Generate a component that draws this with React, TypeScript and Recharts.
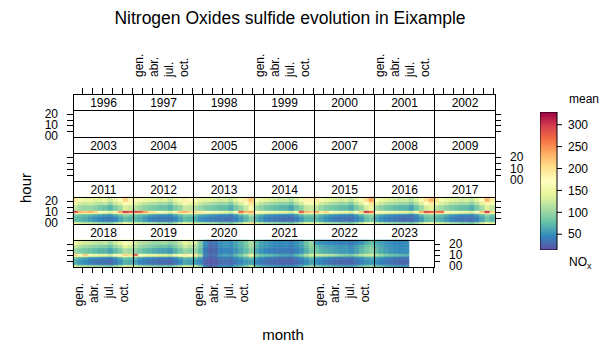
import React from 'react';
import { BarChart, Bar, Cell, XAxis, YAxis } from 'recharts';

// month / hour axes
const months = [1, 2, 3, 4, 5, 6, 7, 8, 9, 10, 11, 12];
const monthNames = ['gen.', 'febr.', 'març', 'abr.', 'maig', 'juny', 'jul.', 'ag.', 'set.', 'oct.', 'nov.', 'des.'];
const labelledMonths = [1, 4, 7, 10];
const tickMonths = [2, 4, 6, 8, 10, 12];
const hourTicks = [5, 10, 15, 20];
const hourLabels = [0, 10, 20];

// hour groups used for the cells (bottom to top)
const hourBands = [
  { from: 0, span: 2 },
  { from: 2, span: 5 },
  { from: 7, span: 2 },
  { from: 9, span: 1 },
  { from: 10, span: 2 },
  { from: 12, span: 5 },
  { from: 17, span: 3 },
  { from: 20, span: 4 },
];

const panelYears = [
  1996, 1997, 1998, 1999, 2000, 2001, 2002,
  2003, 2004, 2005, 2006, 2007, 2008, 2009,
  2011, 2012, 2013, 2014, 2015, 2016, 2017,
  2018, 2019, 2020, 2021, 2022, 2023,
];

// mean NOx per hour band (rows, bottom -> top) and month (columns)
const nox2011 = [
  [140, 130, 125, 120, 115, 105, 100, 95, 115, 130, 150, 140],
  [72, 70, 65, 58, 50, 45, 40, 38, 45, 60, 75, 70],
  [85, 80, 75, 70, 65, 60, 55, 50, 65, 80, 95, 90],
  [170, 150, 150, 150, 140, 130, 120, 110, 140, 160, 190, 175],
  [290, 230, 220, 230, 210, 170, 160, 140, 180, 240, 300, 285],
  [120, 105, 100, 100, 95, 85, 80, 70, 90, 105, 135, 125],
  [150, 130, 125, 130, 120, 115, 120, 100, 125, 140, 175, 160],
  [190, 160, 150, 150, 140, 140, 150, 130, 150, 170, 210, 180],
];
const nox2012 = [
  [135, 125, 120, 115, 110, 100, 100, 90, 110, 125, 145, 135],
  [70, 65, 55, 45, 40, 38, 38, 35, 45, 60, 75, 70],
  [80, 75, 70, 60, 55, 50, 50, 45, 60, 75, 90, 85],
  [165, 150, 140, 135, 130, 120, 115, 105, 130, 150, 170, 160],
  [290, 280, 240, 200, 190, 170, 160, 140, 180, 220, 230, 210],
  [115, 105, 95, 90, 85, 80, 80, 70, 90, 100, 125, 120],
  [145, 130, 120, 115, 110, 105, 105, 95, 120, 135, 160, 150],
  [180, 160, 150, 145, 140, 135, 140, 125, 145, 160, 185, 175],
];
const nox2013 = [
  [130, 120, 115, 110, 105, 95, 95, 85, 105, 120, 140, 200],
  [65, 50, 45, 40, 38, 35, 35, 32, 42, 55, 70, 90],
  [75, 65, 60, 55, 50, 45, 45, 40, 55, 70, 85, 110],
  [150, 140, 135, 130, 125, 115, 110, 100, 125, 150, 170, 190],
  [200, 190, 180, 170, 160, 150, 140, 130, 170, 270, 230, 240],
  [110, 100, 90, 85, 80, 75, 75, 65, 85, 100, 125, 160],
  [140, 125, 115, 110, 105, 100, 100, 90, 115, 135, 165, 200],
  [170, 150, 145, 140, 135, 130, 135, 120, 140, 160, 190, 220],
];
const nox2014 = [
  [130, 120, 110, 105, 100, 95, 95, 85, 100, 120, 140, 140],
  [65, 55, 42, 38, 35, 33, 33, 30, 40, 55, 70, 70],
  [75, 65, 55, 50, 45, 45, 42, 40, 55, 70, 85, 85],
  [150, 140, 130, 125, 120, 110, 105, 95, 120, 150, 170, 170],
  [170, 160, 160, 155, 150, 145, 140, 130, 160, 280, 230, 220],
  [105, 95, 85, 80, 75, 70, 70, 60, 80, 95, 120, 125],
  [135, 120, 110, 105, 100, 95, 95, 85, 110, 130, 155, 160],
  [165, 150, 140, 135, 130, 125, 130, 115, 135, 155, 180, 185],
];
const nox2015 = [
  [140, 125, 115, 110, 105, 95, 95, 85, 105, 125, 150, 170],
  [70, 60, 50, 42, 38, 35, 35, 32, 42, 55, 75, 85],
  [80, 70, 60, 55, 50, 45, 45, 40, 55, 70, 90, 100],
  [160, 145, 140, 130, 125, 115, 110, 100, 125, 150, 180, 190],
  [240, 190, 210, 170, 160, 150, 145, 135, 170, 210, 300, 270],
  [115, 100, 90, 85, 80, 75, 75, 65, 85, 100, 130, 150],
  [150, 130, 120, 110, 105, 100, 100, 90, 115, 135, 170, 200],
  [190, 160, 150, 140, 135, 130, 135, 120, 140, 160, 200, 240],
];
const nox2016 = [
  [130, 120, 110, 105, 100, 95, 95, 85, 100, 125, 150, 160],
  [60, 50, 42, 38, 35, 32, 32, 30, 40, 55, 75, 80],
  [70, 60, 55, 50, 45, 42, 40, 38, 50, 70, 90, 95],
  [150, 140, 130, 125, 120, 110, 105, 95, 120, 150, 180, 185],
  [170, 165, 160, 155, 150, 145, 140, 130, 160, 230, 290, 280],
  [105, 95, 85, 80, 75, 70, 70, 60, 80, 100, 130, 145],
  [140, 125, 115, 110, 105, 100, 100, 90, 110, 135, 170, 190],
  [170, 150, 140, 135, 130, 125, 130, 115, 135, 160, 200, 230],
];
const nox2017 = [
  [140, 130, 120, 110, 105, 95, 95, 85, 105, 130, 155, 140],
  [70, 65, 55, 42, 38, 35, 35, 32, 42, 60, 80, 70],
  [80, 75, 65, 55, 50, 45, 45, 40, 55, 75, 95, 80],
  [165, 155, 140, 130, 125, 115, 110, 100, 125, 155, 185, 160],
  [260, 270, 180, 160, 155, 150, 145, 135, 165, 220, 300, 210],
  [115, 105, 95, 85, 80, 75, 75, 65, 85, 105, 135, 120],
  [150, 135, 125, 115, 110, 105, 105, 95, 115, 140, 180, 155],
  [200, 160, 150, 140, 135, 130, 135, 120, 140, 170, 230, 190],
];
const nox2018 = [
  [130, 115, 110, 105, 100, 95, 90, 85, 100, 115, 135, 130],
  [65, 55, 48, 40, 36, 34, 34, 30, 40, 52, 68, 65],
  [75, 65, 60, 50, 45, 42, 40, 38, 50, 65, 80, 75],
  [150, 135, 135, 125, 120, 110, 105, 95, 120, 140, 165, 155],
  [210, 170, 215, 160, 150, 145, 140, 130, 160, 180, 210, 205],
  [100, 90, 85, 80, 75, 70, 70, 60, 75, 90, 110, 105],
  [125, 110, 105, 100, 95, 90, 90, 80, 100, 115, 140, 130],
  [150, 135, 130, 125, 120, 115, 120, 105, 125, 140, 165, 155],
];
const nox2019 = [
  [125, 110, 100, 95, 90, 85, 85, 80, 95, 110, 130, 120],
  [60, 45, 40, 35, 32, 30, 30, 28, 36, 48, 62, 58],
  [70, 55, 48, 44, 40, 38, 38, 35, 45, 58, 72, 68],
  [150, 130, 120, 115, 110, 105, 100, 95, 110, 130, 150, 140],
  [280, 165, 160, 150, 145, 140, 135, 125, 150, 165, 190, 175],
  [95, 85, 75, 70, 65, 60, 60, 55, 70, 85, 100, 95],
  [115, 100, 95, 90, 85, 80, 80, 75, 90, 105, 125, 115],
  [130, 115, 110, 105, 100, 100, 105, 95, 105, 120, 140, 130],
];
const nox2020 = [
  [120, 90, 40, 25, 28, 45, 50, 45, 60, 70, 85, 115],
  [55, 45, 25, 20, 22, 30, 32, 30, 38, 45, 55, 60],
  [70, 55, 30, 22, 25, 35, 38, 35, 45, 55, 65, 75],
  [130, 95, 38, 26, 30, 50, 52, 50, 65, 78, 95, 130],
  [200, 110, 40, 28, 32, 55, 60, 55, 72, 85, 110, 150],
  [100, 75, 38, 25, 28, 42, 45, 42, 52, 62, 75, 95],
  [110, 85, 45, 28, 32, 48, 52, 48, 58, 68, 82, 105],
  [130, 90, 50, 32, 35, 50, 55, 50, 60, 70, 85, 110],
];
const nox2021 = [
  [80, 65, 60, 55, 50, 48, 48, 45, 55, 65, 85, 100],
  [45, 38, 34, 30, 28, 26, 26, 24, 30, 38, 48, 60],
  [55, 45, 40, 36, 33, 30, 30, 28, 35, 45, 58, 70],
  [85, 70, 65, 60, 55, 50, 50, 48, 60, 75, 95, 115],
  [95, 80, 75, 70, 65, 60, 60, 55, 70, 85, 110, 130],
  [62, 52, 46, 42, 40, 38, 40, 35, 42, 52, 68, 85],
  [70, 58, 52, 48, 45, 42, 45, 40, 48, 58, 75, 95],
  [75, 60, 55, 50, 48, 45, 48, 42, 50, 60, 80, 100],
];
const nox2022 = [
  [85, 78, 72, 68, 62, 58, 58, 55, 65, 75, 88, 95],
  [48, 42, 38, 33, 30, 28, 28, 26, 34, 42, 50, 55],
  [55, 50, 45, 40, 36, 34, 34, 32, 40, 48, 58, 62],
  [95, 90, 85, 80, 75, 70, 68, 62, 75, 85, 95, 100],
  [130, 125, 120, 115, 105, 95, 90, 85, 100, 115, 125, 130],
  [80, 70, 65, 62, 58, 55, 55, 50, 60, 72, 85, 95],
  [75, 65, 60, 58, 55, 52, 55, 48, 58, 68, 80, 90],
  [55, 50, 48, 45, 42, 40, 42, 38, 45, 52, 65, 75],
];
const nox2023 = [
  [80, 72, 65, 60, 55, 52, 52],
  [48, 42, 36, 32, 30, 28, 28],
  [55, 48, 42, 38, 35, 33, 33],
  [85, 78, 70, 65, 60, 58, 56],
  [110, 100, 85, 80, 75, 70, 68],
  [75, 65, 58, 52, 50, 48, 50],
  [70, 62, 55, 50, 48, 46, 48],
  [65, 58, 52, 48, 45, 45, 48],
];

const noxByYear: Record<number, number[][]> = {
  2011: nox2011, 2012: nox2012, 2013: nox2013, 2014: nox2014, 2015: nox2015,
  2016: nox2016, 2017: nox2017, 2018: nox2018, 2019: nox2019, 2020: nox2020,
  2021: nox2021, 2022: nox2022, 2023: nox2023,
};

// colour key
const spectral = ['#5E4FA2', '#3288BD', '#66C2A5', '#ABDDA4', '#E6F598', '#FFFFBF', '#FEE08B', '#FDAE61', '#F46D43', '#D53E4F', '#9E0142'];
const scaleMin = 14;
const scaleMax = 329;
const legendTicks = [50, 100, 150, 200, 250, 300];
const legendData = [{ key: 'nox', range: [scaleMin, scaleMax] }];

const FONT = '"Liberation Sans", Arial, Helvetica, sans-serif';
const colEdges = [73, 133, 193, 254, 314, 374, 434, 495];
const rowTops = [94, 137, 181, 224, 267];
const STRIP = 16;
const PAD = 10;

const hexRgb = (h: string) => [1, 3, 5].map((i) => parseInt(h.slice(i, i + 2), 16));

function noxColor(v: number) {
  const t = Math.min(1, Math.max(0, (v - scaleMin) / (scaleMax - scaleMin))) * (spectral.length - 1);
  const i = Math.min(spectral.length - 2, Math.floor(t));
  const f = t - i;
  const a = hexRgb(spectral[i]);
  const b = hexRgb(spectral[i + 1]);
  const c = a.map((av, k) => Math.round(av + (b[k] - av) * f));
  return `rgb(${c[0]},${c[1]},${c[2]})`;
}

const MonthTick = (props: any) => {
  const { x, y, payload, side, labelled } = props;
  const m = payload.value;
  const lx = Math.round(x) + 1.5;
  if (side === 'top') {
    const base = y - STRIP;
    return (
      <g>
        {tickMonths.includes(m) && <line x1={lx} x2={lx} y1={base - 6} y2={base} stroke="#000" />}
        {labelled && labelledMonths.includes(m) && (
          <text x={x + 3} y={base - 17} transform={`rotate(-90, ${x + 3}, ${base - 17})`} textAnchor="start"
            dominantBaseline="central" fontSize={12} fontFamily={FONT} fill="#000">{monthNames[m - 1]}</text>
        )}
      </g>
    );
  }
  return (
    <g>
      {tickMonths.includes(m) && <line x1={lx} x2={lx} y1={y} y2={y + 6} stroke="#000" />}
      {labelled && labelledMonths.includes(m) && (
        <text x={x + 3} y={y + 16} transform={`rotate(-90, ${x + 3}, ${y + 16})`} textAnchor="end"
          dominantBaseline="central" fontSize={12} fontFamily={FONT} fill="#000">{monthNames[m - 1]}</text>
      )}
    </g>
  );
};

const HourTick = (props: any) => {
  const { x, y, payload, side, labelled } = props;
  const h = payload.value - 0.5;
  const ly = Math.round(y) + 0.5;
  const dir = side === 'left' ? -1 : 1;
  return (
    <g>
      {hourTicks.includes(h) && <line x1={x} x2={x + dir * 6} y1={ly} y2={ly} stroke="#000" />}
      {labelled && hourLabels.includes(h) && (
        <text x={x + dir * 15} y={y} textAnchor={side === 'left' ? 'end' : 'start'} dominantBaseline="central"
          fontSize={12} fontFamily={FONT} fill="#000">{String(h).padStart(2, '0')}</text>
      )}
    </g>
  );
};

const Panel = ({ year, index }: { year: number; index: number }) => {
  const row = Math.floor(index / 7);
  const col = index % 7;
  const lastCol = row === 3 ? 5 : 6;
  const bands = noxByYear[year];
  const data = months.map((m, mi) => {
    const rec: Record<string, number> = { month: m };
    if (bands) {
      hourBands.forEach((hb, k) => {
        const v = bands[k][mi];
        if (v !== undefined) {
          rec['b' + k] = hb.span;
          rec['v' + k] = v;
        }
      });
    }
    return rec;
  });
  const left = colEdges[col];
  const w = colEdges[col + 1] - left;
  const top = rowTops[row] + STRIP;
  const h = rowTops[row + 1] - top;
  const showTop = row === 0;
  const showBottom = row === 3;
  const showLeft = col === 0;
  const showRight = col === lastCol;
  const mt = showTop ? 60 : 0;
  const mb = showBottom ? 45 : 0;
  const ml = showLeft ? 60 : 0;
  const mr = showRight ? 40 : 0;
  const hourAxisTicks = [0.5, 5.5, 10.5, 15.5, 20.5];
  const barAxis = showRight ? 'r' : 'h';

  return (
    <div style={{ position: 'absolute', left: left - ml - PAD, top: top - mt - PAD }}>
      <BarChart width={w + ml + mr + 2 * PAD} height={h + mt + mb + 2 * PAD} data={data}
        margin={{ top: PAD, right: PAD, bottom: PAD, left: PAD }} barCategoryGap={0} barGap={0}>
        <XAxis xAxisId="m" dataKey="month" type="category" orientation={showBottom ? 'bottom' : 'top'}
          hide={!showTop && !showBottom} height={showTop ? mt : mb} axisLine={false} tickLine={false}
          tickSize={0} tickMargin={0} interval={0}
          tick={(p: any) => <MonthTick {...p} side={showTop ? 'top' : 'bottom'} labelled={showTop ? col % 2 === 1 : col % 2 === 0} />} />
        <YAxis yAxisId="h" type="number" domain={[0, 24]} orientation="left" hide={!showLeft} width={ml}
          ticks={hourAxisTicks} interval={0} axisLine={false} tickLine={false} tickSize={0} tickMargin={0}
          tick={(p: any) => <HourTick {...p} side="left" labelled={row % 2 === 0} />} />
        <YAxis yAxisId="r" type="number" domain={[0, 24]} orientation="right" hide={!showRight} width={mr}
          ticks={hourAxisTicks} interval={0} axisLine={false} tickLine={false} tickSize={0} tickMargin={0}
          tick={(p: any) => <HourTick {...p} side="right" labelled={row % 2 === 1} />} />
        {hourBands.map((hb, k) => (
          <Bar key={hb.from} xAxisId="m" yAxisId={barAxis} dataKey={'b' + k} stackId="s" isAnimationActive={false}>
            {data.map((d, mi) => {
              const v = d['v' + k];
              const c = v !== undefined ? noxColor(v) : 'none';
              return <Cell key={mi} fill={c} stroke={c} strokeWidth={0.6} />;
            })}
          </Bar>
        ))}
      </BarChart>
    </div>
  );
};

export default function App() {
  return (
    <div style={{ position: 'absolute', left: 0, top: 0, width: 613, height: 364, background: '#fff', fontFamily: FONT }}>
      <svg width={0} height={0} style={{ position: 'absolute' }}>
        <defs>
          <linearGradient id="noxGrad" x1="0" y1="1" x2="0" y2="0">
            {spectral.map((c, i) => (
              <stop key={c} offset={i / (spectral.length - 1)} stopColor={c} />
            ))}
          </linearGradient>
        </defs>
      </svg>

      {panelYears.map((yr, i) => (
        <Panel key={yr} year={yr} index={i} />
      ))}

      <svg width={613} height={364} style={{ position: 'absolute', left: 0, top: 0, pointerEvents: 'none' }}>
        <text x={290} y={24} textAnchor="middle" fontSize={17.5} fill="#000">Nitrogen Oxides sulfide evolution in Eixample</text>
        {panelYears.map((yr, i) => {
          const r = Math.floor(i / 7);
          const c = i % 7;
          const x0 = colEdges[c];
          const x1 = colEdges[c + 1];
          const y0 = rowTops[r];
          const y1 = rowTops[r + 1];
          return (
            <g key={yr}>
              <rect x={x0 + 0.5} y={y0 + 0.5} width={x1 - x0} height={y1 - y0} fill="none" stroke="#000" />
              <line x1={x0} x2={x1 + 1} y1={y0 + STRIP + 0.5} y2={y0 + STRIP + 0.5} stroke="#000" />
              <text x={(x0 + x1) / 2 + 0.5} y={y0 + STRIP / 2 + 1} textAnchor="middle" dominantBaseline="central" fontSize={12} fill="#000">{yr}</text>
            </g>
          );
        })}
        <text x={0} y={0} transform="translate(25,188) rotate(-90)" textAnchor="middle" dominantBaseline="central" fontSize={15} fill="#000">hour</text>
        <text x={283} y={334} textAnchor="middle" dominantBaseline="central" fontSize={15} fill="#000">month</text>
        <text x={569} y={99} dominantBaseline="central" fontSize={12} fill="#000">mean</text>
        <text x={569} y={262} dominantBaseline="central" fontSize={12} fill="#000">NO<tspan fontSize={9} dy={4}>x</tspan></text>
      </svg>

      <div style={{ position: 'absolute', left: 540, top: 112 }}>
        <BarChart width={57} height={138} data={legendData} margin={{ top: 0, right: 0, bottom: 0, left: 0 }}
          barCategoryGap={0}>
          <XAxis dataKey="key" type="category" hide />
          <YAxis type="number" domain={[scaleMin, scaleMax]} orientation="right" width={40} ticks={legendTicks}
            interval={0} tickSize={5} tickMargin={6} axisLine={false} tickLine={{ stroke: '#000' }}
            tick={{ fill: '#000', fontSize: 12, fontFamily: FONT }} />
          <Bar dataKey="range" fill="url(#noxGrad)" stroke="#000" isAnimationActive={false} />
        </BarChart>
      </div>
    </div>
  );
}
